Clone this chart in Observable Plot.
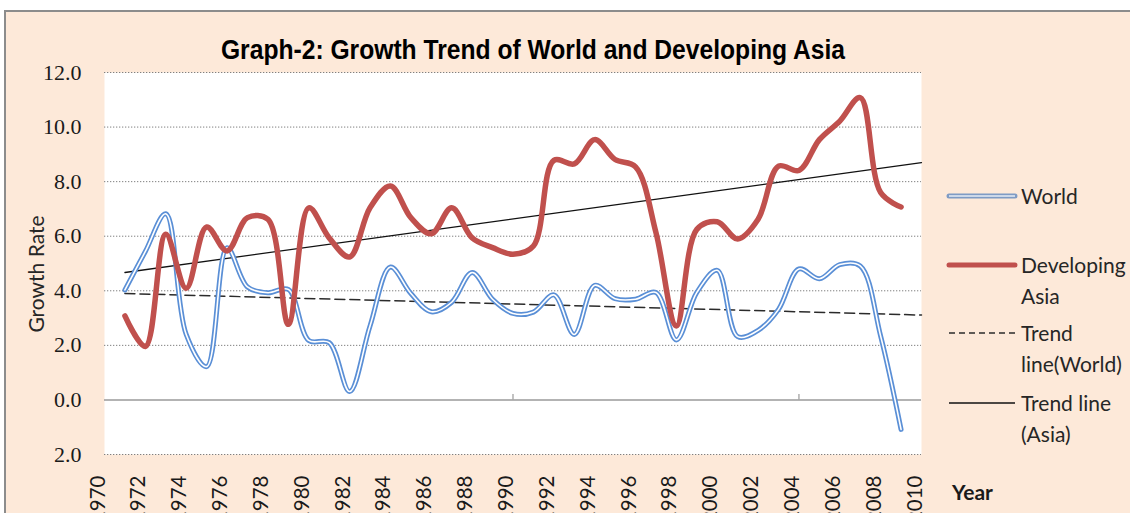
<!DOCTYPE html>
<html>
<head>
<meta charset="utf-8">
<script src="https://cdn.jsdelivr.net/npm/d3@7"></script>
<script src="https://cdn.jsdelivr.net/npm/@observablehq/plot@0.6"></script>
<style>
  html, body { margin: 0; padding: 0; background: #ffffff; overflow: hidden; width: 1130px; height: 513px; }
  #page { position: relative; width: 1130px; height: 513px; overflow: hidden; }
  #frame { position: absolute; left: 4px; top: 10px; width: 1200px; height: 600px; background: #fde9d9;
           border-left: 2px solid #8c8c8c; border-top: 2px solid #8c8c8c; box-sizing: border-box; }
  #chart { position: absolute; left: 0; top: 0; }
  .txt { position: absolute; white-space: nowrap; color: #1a1a1a; }
  .leg { font-family: Lato, "Open Sans", sans-serif; font-size: 21px; line-height: 31px; color: #262626; left: 1021px; }
</style>
</head>
<body>
<div id="page">
  <div id="frame"></div>
  <div id="chart"></div>
</div>
<script>
// ---- data ----
const years = [1971,1972,1973,1974,1975,1976,1977,1978,1979,1980,
               1981,1982,1983,1984,1985,1986,1987,1988,1989,1990,
               1991,1992,1993,1994,1995,1996,1997,1998,1999,2000,
               2001,2002,2003,2004,2005,2006,2007,2008,2009];
const world = [4.03,5.44,6.82,2.40,1.22,5.58,4.14,3.93,4.05,2.18,
               2.10,0.31,2.71,4.87,3.90,3.23,3.58,4.67,3.69,3.17,
               3.22,3.85,2.40,4.20,3.71,3.69,3.94,2.20,3.94,4.75,
               2.32,2.55,3.32,4.80,4.44,4.96,4.91,2.34,-1.08];
const asia  = [3.08,1.96,6.07,4.09,6.34,5.46,6.68,6.62,2.77,7.04,
               5.94,5.24,7.04,7.84,6.68,6.09,7.04,5.94,5.58,5.34,
               5.64,8.78,8.65,9.54,8.81,8.54,6.13,2.71,6.25,6.53,
               5.90,6.62,8.57,8.41,9.54,10.22,11.08,7.60,7.07];
const trendYears = [1971, 2010];
const trendWorld = [3.90, 3.11];
const trendAsia  = [4.67, 8.70];
const yTickValues = [-2,0,2,4,6,8,10,12];
const yTickLabels = ["2.0","0.0","2.0","4.0","6.0","8.0","10.0","12.0"];
const xTickYears = [1970,1972,1974,1976,1978,1980,1982,1984,1986,1988,1990,
                    1992,1994,1996,1998,2000,2002,2004,2006,2008,2010];
const zeroLineTicks = [1990, 2004];
const titleText = "Graph-2: Growth Trend of World and Developing Asia";
const yLabelText = "Growth Rate";
const xLabelText = "Year";
const legendItems = [
  {key: "world", lines: ["World"]},
  {key: "asia", lines: ["Developing", "Asia"]},
  {key: "trendWorld", lines: ["Trend", "line(World)"]},
  {key: "trendAsia", lines: ["Trend line", "(Asia)"]}
];

// ---- tables ----
const worldData = years.map((y, i) => ({year: y, v: world[i]}));
const asiaData = years.map((y, i) => ({year: y, v: asia[i]}));
const trendW = trendYears.map((y, i) => ({year: y, v: trendWorld[i]}));
const trendA = trendYears.map((y, i) => ({year: y, v: trendAsia[i]}));
const yLabelMap = new Map(yTickValues.map((v, i) => [v, yTickLabels[i]]));

const BLUE = "#5a8fd6", RED = "#c0504d";

const chart = Plot.plot({
  width: 1130, height: 513,
  marginLeft: 104, marginRight: 209, marginTop: 72, marginBottom: 59,
  x: {domain: [1970, 2010], axis: null},
  y: {domain: [-2, 12], axis: null},
  style: {background: "transparent", overflow: "hidden"},
  marks: [
    Plot.frame({fill: "white", stroke: null}),
    Plot.ruleY(yTickValues.filter(d => d !== 0), {stroke: "#808080", strokeWidth: 1, strokeDasharray: "1.3,1.7"}),
    Plot.ruleY([0], {stroke: "#9a9a9a", strokeWidth: 1.6}),
    Plot.ruleX(zeroLineTicks, {y1: 0, y2: 0.2, stroke: "#9a9a9a", strokeWidth: 1.2}),
    Plot.line(trendW, {x: "year", y: "v", stroke: "#2b2b2b", strokeWidth: 1.5, strokeDasharray: "10,5"}),
    Plot.line(trendA, {x: "year", y: "v", stroke: "#111", strokeWidth: 1.3}),
    Plot.line(worldData, {x: "year", y: "v", stroke: BLUE, strokeWidth: 5, curve: "catmull-rom", strokeLinejoin: "round"}),
    Plot.line(worldData, {x: "year", y: "v", stroke: "white", strokeWidth: 1.6, curve: "catmull-rom"}),
    Plot.line(asiaData, {x: "year", y: "v", stroke: RED, strokeWidth: 5.5, curve: "catmull-rom", strokeLinejoin: "round"}),
    Plot.text(yTickValues, {frameAnchor: "left", y: d => d, text: d => yLabelMap.get(d), textAnchor: "end", dx: -23,
      fontSize: 22, fontFamily: "Liberation Serif, serif", fill: "#1a1a1a"}),
    Plot.text(xTickYears, {x: d => d, frameAnchor: "bottom", text: d => String(d), rotate: -90, textAnchor: "end", dy: 21,
      fontSize: 20.5, fontFamily: "Lato, sans-serif", fill: "#1a1a1a"})
  ]
});
document.getElementById("chart").appendChild(chart);

// ---- HTML text: title, axis labels, legend ----
const page = document.getElementById("page");
function addText(cls, text, style) {
  const d = document.createElement("div");
  d.className = "txt " + cls;
  d.innerHTML = text;
  Object.assign(d.style, style);
  page.appendChild(d);
  return d;
}
const cv = document.createElement("canvas").getContext("2d");
cv.font = "bold 28px 'Liberation Sans'";
const tw = cv.measureText(titleText).width;
const ts = 625 / tw;
addText("", titleText, {left: "532.5px", top: "35.6px", transform: `translateX(-50%) scaleX(${ts})`, transformOrigin: "50% 50%",
  fontFamily: "'Liberation Sans', Arial, sans-serif", fontWeight: "bold", fontSize: "28px", lineHeight: "28px", color: "#000"});

addText("", yLabelText, {left: "35px", top: "274px", transform: "translate(-50%,-50%) rotate(-90deg)",
  fontFamily: "Lato, sans-serif", fontSize: "21px", lineHeight: "25px", color: "#262626"});

addText("", xLabelText, {left: "952px", top: "476.4px", fontFamily: "Lato, sans-serif", fontWeight: "bold",
  fontSize: "21px", lineHeight: "31px", color: "#1a1a1a"});

const legTops = [179.9, 248.9, 316.9, 386.9];
const swatchY = [196, 265, 333, 403];
legendItems.forEach((it, i) => {
  addText("leg", it.lines.join("<br>"), {top: legTops[i] + "px"});
  const svgNS = "http://www.w3.org/2000/svg";
  const s = document.createElementNS(svgNS, "svg");
  s.setAttribute("width", 74); s.setAttribute("height", 10);
  s.style.position = "absolute"; s.style.left = "945px"; s.style.top = (swatchY[i] - 5) + "px";
  const mk = (attrs) => { const l = document.createElementNS(svgNS, "line");
    l.setAttribute("x1", 4); l.setAttribute("x2", 70); l.setAttribute("y1", 5); l.setAttribute("y2", 5);
    for (const k in attrs) l.setAttribute(k, attrs[k]); s.appendChild(l); };
  if (it.key === "world") { mk({stroke: "#7f9bc4", "stroke-width": 5, "stroke-linecap": "round"}); mk({stroke: "#e6edf6", "stroke-width": 1.6}); }
  if (it.key === "asia") mk({stroke: RED, "stroke-width": 5, "stroke-linecap": "round"});
  if (it.key === "trendWorld") mk({stroke: "#2b2b2b", "stroke-width": 1.4, "stroke-dasharray": "6,4"});
  if (it.key === "trendAsia") mk({stroke: "#111", "stroke-width": 1.3});
  page.appendChild(s);
});
</script>
</body>
</html>
